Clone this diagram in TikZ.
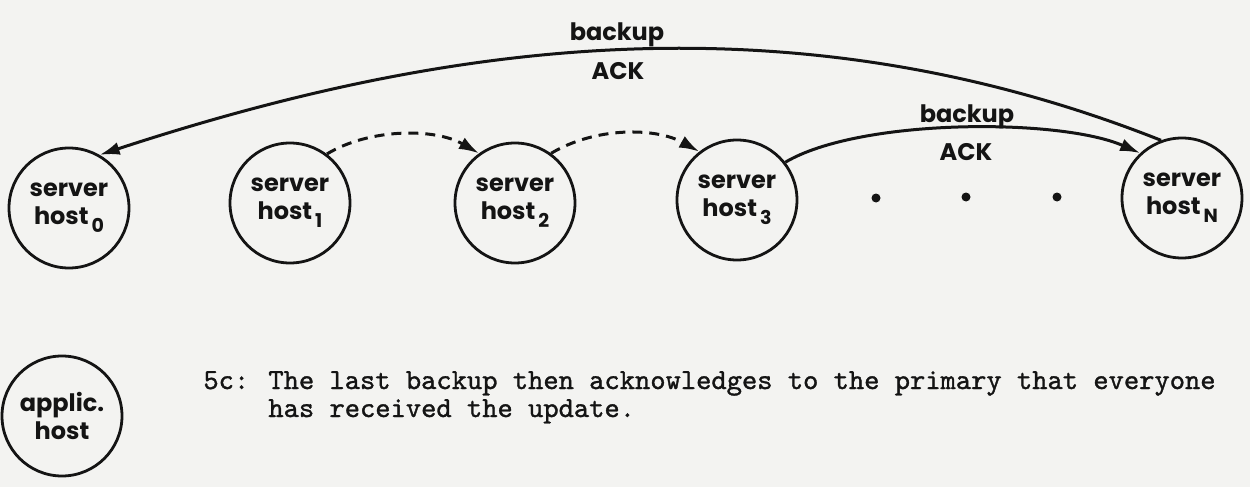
\documentclass[tikz,border=0pt]{standalone}
\usepackage{fontspec}
\setmainfont{Poppins}
\newfontfamily\lettering{Poppins}
\newfontfamily\typer{lmmono10-regular.otf}[FakeBold=1.2]
\usetikzlibrary{arrows.meta}
\definecolor{paper}{RGB}{243,243,241}
\definecolor{ink}{RGB}{20,20,20}
% lowered index after "host"
\newcommand{\hostidx}[1]{\kern1.5pt\raisebox{-4pt}{\fontsize{9.5}{9.5}\selectfont #1}}
\begin{document}
\begin{tikzpicture}[x=0.5pt,y=-0.5pt,
  host/.style={circle,draw=ink,line width=1.4pt,minimum size=60pt,inner sep=0pt,
    align=center,text=ink,font=\lettering\bfseries\fontsize{12}{14}\selectfont},
  link/.style={draw=ink,line width=1.5pt,-{Latex[length=10pt,width=6.5pt]}},
  dashlink/.style={link,dash pattern=on 5pt off 3.5pt},
  lbl/.style={anchor=base,text=ink,inner sep=0pt,font=\lettering\bfseries\fontsize{12}{14}\selectfont},
  dotmark/.style={circle,fill=ink,inner sep=0pt,minimum size=4.5pt},
  body/.style={anchor=base west,inner sep=0pt,text=ink,font=\typer\fontsize{14.55}{18}\selectfont}]
\fill[paper] (0,0) rectangle (1250,487);
\useasboundingbox (0,0) rectangle (1250,487);

% server hosts
\node[host] (h0) at (69,208)  {server\\host\hostidx{0}};
\node[host] (h1) at (290,203) {server\\host\hostidx{1}};
\node[host] (h2) at (515,203) {server\\host\hostidx{2}};
\node[host] (h3) at (737,200) {server\\host\hostidx{3}};
\node[host] (hN) at (1182,198) {server\\host\hostidx{N}};

% ellipsis between host 3 and host N
\node[dotmark] (d1) at (876,198) {};
\node[dotmark] (d2) at (966,197) {};
\node[dotmark] (d3) at (1057,197) {};

% application host
\node[host] (ap) at (62,416) {applic.\\host};

% forwarding of the update along the chain
\draw[dashlink] (h1.53) .. controls (370,128) and (435,128) .. (h2.126);
\draw[dashlink] (h2.54) .. controls (595,127) and (655,127) .. (h3.128);
\draw[link] (h3.38) .. controls (860,118) and (1060,118) .. (hN.133);

% acknowledgement from the last backup back to host 0
\draw[link] (hN.110) .. controls (784,-9) and (435,45) .. (h0.60);

\node[lbl] (t1) at (617,40) {backup};
\node[lbl] (t2) at (618,79) {ACK};
\node[lbl] (t3) at (967,122) {backup};
\node[lbl] (t4) at (966,160) {ACK};

% caption
\node[body] (c0) at (203,389) {5c:};
\node[body] (c1) at (268,389) {The last backup then acknowledges to the primary that everyone};
\node[body] (c2) at (268,417) {has received the update.};
\end{tikzpicture}
\end{document}
